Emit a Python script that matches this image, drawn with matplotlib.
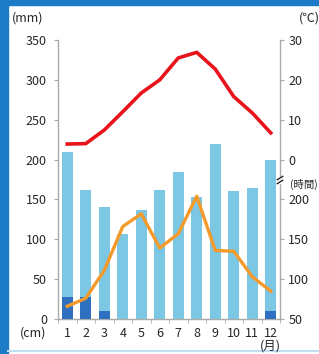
import matplotlib
matplotlib.use("Agg")
import matplotlib.pyplot as plt
from matplotlib.patches import Rectangle
from matplotlib.lines import Line2D

months = [1, 2, 3, 4, 5, 6, 7, 8, 9, 10, 11, 12]
month_labels = ["1", "2", "3", "4", "5", "6", "7", "8", "9", "10", "11", "12"]
precip_mm = [209, 162, 140, 107, 137, 162, 185, 153, 219, 160, 164, 199]
snow_cm = [27, 27, 10, 0, 0, 0, 0, 0, 0, 0, 0, 10]
temp_c = [3.9, 4.0, 7.4, 12.0, 16.7, 20.0, 25.5, 26.9, 22.7, 15.8, 11.7, 6.7]
sun_h = [66, 76, 111, 166, 182, 139, 157, 204, 136, 135, 103, 85]

W, H = 319, 354
fig = plt.figure(figsize=(W / 100, H / 100), dpi=100)
plt.rcParams['font.family'] = ['Noto Sans CJK JP', 'DejaVu Sans']

def fx(px):
    return px / W

def fy(py):
    return 1 - py / H

# frame decoration
fig.patches.append(Rectangle((0, 0), fx(8), 1, transform=fig.transFigure,
                             color="#1b7bc6", zorder=0))
fig.patches.append(Rectangle((0, fy(5)), 1, 5 / H, transform=fig.transFigure,
                             color="#1b7bc6", zorder=0))
fig.lines.append(Line2D([fx(8), 1], [fy(351), fy(351)], transform=fig.transFigure,
                        color="#bfe0f2", lw=1.5))

ax = fig.add_axes([fx(58), fy(319), fx(280) - fx(58), (319 - 40) / H])
gray = "#aaaaaa"
txt = "#262626"
fs = 9

ax.bar(months, precip_mm, width=0.6, color="#7cc7e3", zorder=2)
ax.bar(months, snow_cm, width=0.6, color="#2f6fbf", zorder=3)
ax.set_xlim(0.5, 12.5)
ax.set_ylim(0, 350)
ax.set_yticks([0, 50, 100, 150, 200, 250, 300, 350])
ax.set_xticks(months)
ax.set_xticklabels(month_labels)
ax.set_xticks([m + 0.5 for m in [0] + months], minor=True)
ax.tick_params(axis="x", which="major", length=0, pad=6, labelsize=fs, colors=txt)
ax.tick_params(axis="x", which="minor", length=3, color=gray, direction="out")
ax.tick_params(axis="y", length=3, color=gray, pad=5, labelsize=fs, labelcolor=txt)
for s in ["top", "right"]:
    ax.spines[s].set_visible(False)
for s in ["left", "bottom"]:
    ax.spines[s].set_color(gray)
    ax.spines[s].set_linewidth(1.0)

axt = ax.twinx()
axt.set_ylim(-40, 30)
axt.plot(months, temp_c, color="#e8141c", lw=2.6, zorder=4, solid_joinstyle="round")
axt.set_yticks([0, 10, 20, 30])
axt.tick_params(axis="y", length=3, color=gray, pad=3, labelsize=fs, labelcolor=txt)
for s in ["top", "left", "bottom"]:
    axt.spines[s].set_visible(False)
axt.spines["right"].set_color(gray)
axt.spines["right"].set_linewidth(1.0)

axs = ax.twinx()
axs.set_ylim(50, 400)
axs.plot(months, sun_h, color="#f39a2b", lw=2.4, zorder=5, solid_joinstyle="round")
axs.set_yticks([50, 100, 150, 200])
axs.tick_params(axis="y", length=3, color=gray, pad=3, labelsize=fs, labelcolor=txt)
for s in ["top", "left", "bottom", "right"]:
    axs.spines[s].set_visible(False)

# axis break mark on right spine
bx = 1.0
by = 1 - (180 - 40) / (319 - 40)
axs.add_patch(Rectangle((bx - 0.012, by - 0.012), 0.024, 0.024, transform=axs.transAxes,
                        color="white", clip_on=False, zorder=6))
for d in (-0.007, 0.007):
    axs.plot([bx - 0.012, bx + 0.012], [by + d - 0.006, by + d + 0.006],
             transform=axs.transAxes, color="#222222", lw=1.0, clip_on=False, zorder=7)

fig.text(fx(28), fy(18), "(mm)", ha="center", va="center", fontsize=fs, color=txt)
fig.text(fx(309), fy(18), "(℃)", ha="center", va="center", fontsize=fs, color=txt)
fig.text(fx(33), fy(333), "(cm)", ha="center", va="center", fontsize=fs, color=txt)
fig.text(fx(290), fy(184), "(時間)", ha="left", va="center", fontsize=7.5, color=txt)
fig.text(fx(270), fy(346), "(月)", ha="center", va="center", fontsize=fs, color=txt)

fig.savefig("out.png", dpi=100)
